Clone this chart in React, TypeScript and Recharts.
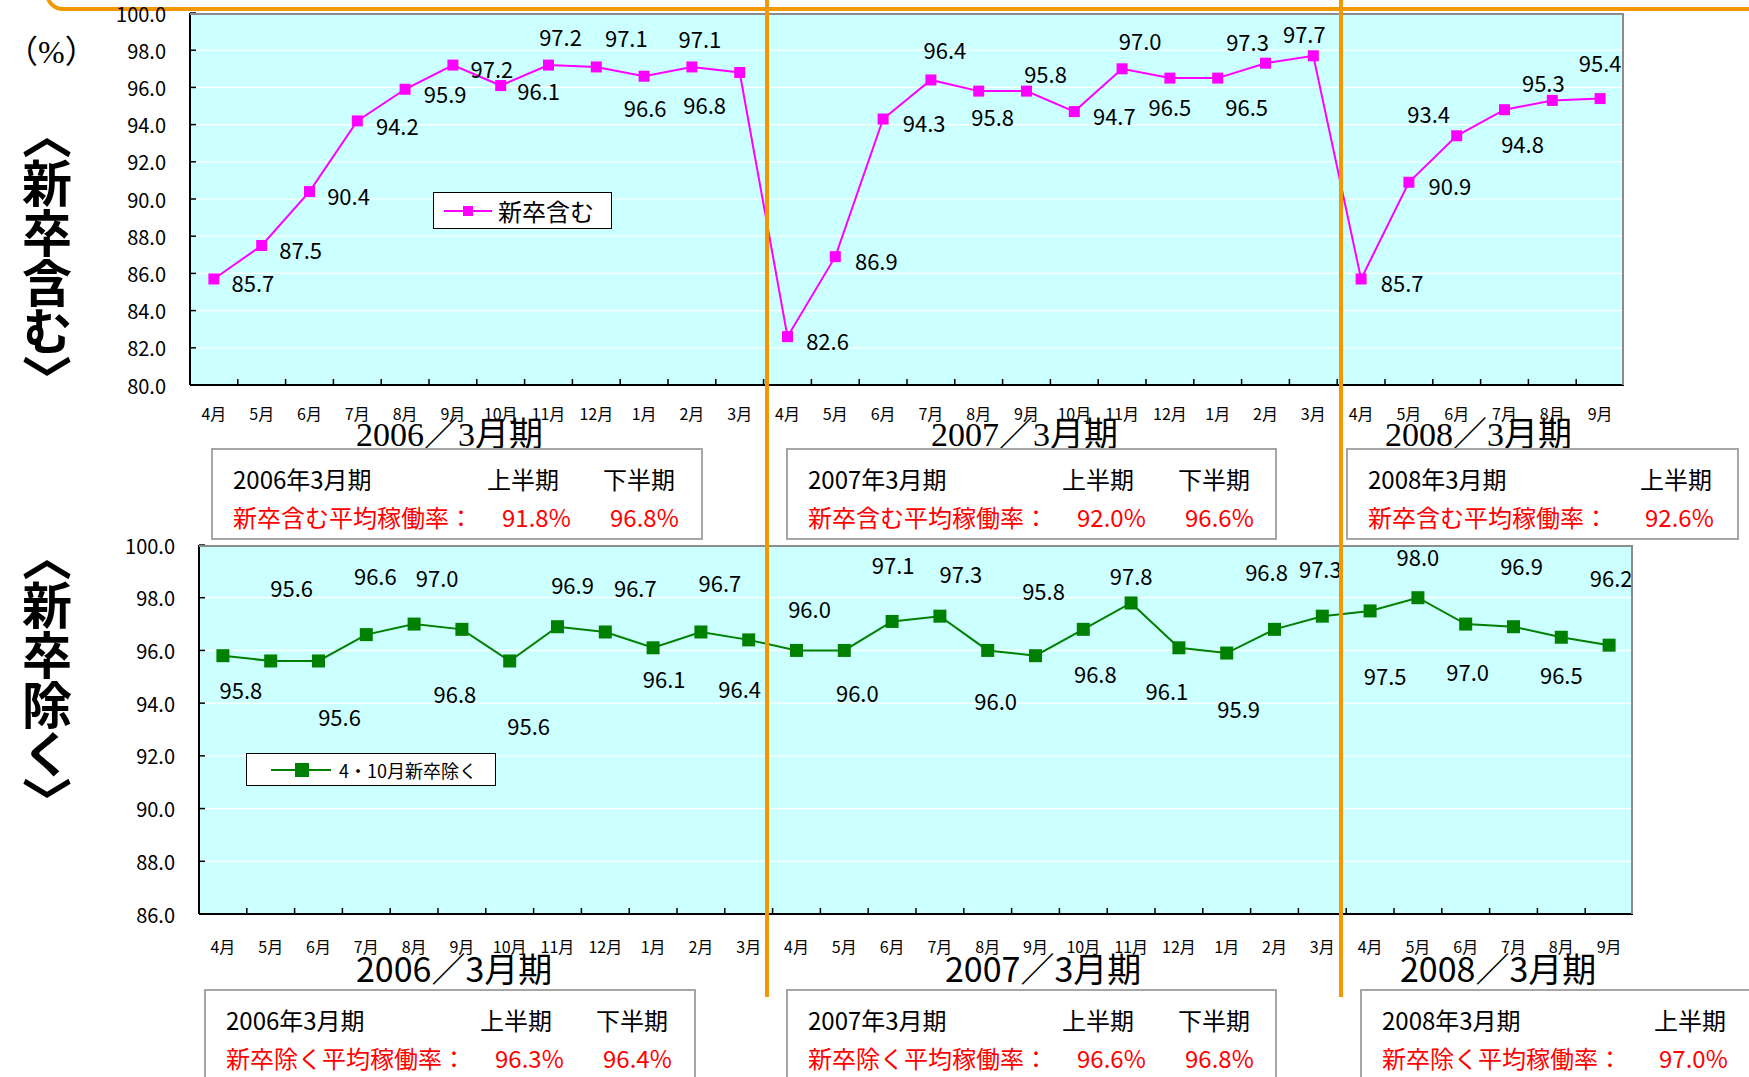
import React from "react";
import { LineChart, Line, XAxis, YAxis, CartesianGrid, LabelList } from "recharts";

// month categories, 2006/3期 → 2008/3期 上半期
const MONTHS = [
  "4月", "5月", "6月", "7月", "8月", "9月", "10月", "11月", "12月", "1月", "2月", "3月",
  "4月", "5月", "6月", "7月", "8月", "9月", "10月", "11月", "12月", "1月", "2月", "3月",
  "4月", "5月", "6月", "7月", "8月", "9月",
];

// 新卒含む
const RATE_WITH_NEW = [
  85.7, 87.5, 90.4, 94.2, 95.9, 97.2, 96.1, 97.2, 97.1, 96.6, 97.1, 96.8,
  82.6, 86.9, 94.3, 96.4, 95.8, 95.8, 94.7, 97.0, 96.5, 96.5, 97.3, 97.7,
  85.7, 90.9, 93.4, 94.8, 95.3, 95.4,
];

// 4・10月新卒除く
const RATE_WITHOUT_NEW = [
  95.8, 95.6, 95.6, 96.6, 97.0, 96.8, 95.6, 96.9, 96.7, 96.1, 96.7, 96.4,
  96.0, 96.0, 97.1, 97.3, 96.0, 95.8, 96.8, 97.8, 96.1, 95.9, 96.8, 97.3,
  97.5, 98.0, 97.0, 96.9, 96.5, 96.2,
];

const TOP_TICKS = [80, 82, 84, 86, 88, 90, 92, 94, 96, 98, 100];
const BOTTOM_TICKS = [86, 88, 90, 92, 94, 96, 98, 100];

const PERIODS = ["2006／3月期", "2007／3月期", "2008／3月期"];
const FISCAL_YEARS = ["2006年3月期", "2007年3月期", "2008年3月期"];
const HALVES = ["上半期", "下半期"];
const AVG_WITH_NEW = [[91.8, 96.8], [92.0, 96.6], [92.6]];
const AVG_WITHOUT_NEW = [[96.3, 96.4], [96.6, 96.8], [97.0]];

// label placement relative to each marker (px)
const TOP_LABEL_POS = [
  [39, 3], [39, 3], [39, 3], [40, 4], [40, 4], [39, 3], [38, 4], [12, -29], [30, -30], [1, 31], [8, -29], [-35, 31],
  [40, 3], [41, 3], [41, 3], [14, -31], [14, 25], [19, -18], [40, 3], [18, -29], [0, 28], [29, 28], [-18, -22], [-9, -23],
  [41, 3], [41, 3], [-28, -23], [18, 33], [-9, -18], [0, -37],
];
const BOTTOM_LABEL_POS = [
  [18, 33], [21, -74], [21, 55], [9, -60], [23, -47], [-7, 64], [19, 64], [15, -43], [30, -45], [11, 30], [19, -50], [-9, 48],
  [13, -42], [13, 42], [1, -57], [21, -43], [8, 50], [8, -66], [12, 44], [0, -28], [-12, 42], [12, 55], [-8, -58], [-2, -48],
  [15, 64], [0, -42], [2, 47], [8, -62], [0, 37], [2, -68],
];

const JP = "'Noto Sans CJK JP', 'Noto Sans', sans-serif";
const SERIF = "'Liberation Serif', 'Noto Sans CJK JP', serif";
const ORANGE = "#F39800";
const MAGENTA = "#FF00FF";
const GREEN = "#008000";
const PLOT_BG = "#CCFFFF";

const TOP = { left: 190, right: 1624, top: 13, bottom: 385, chartH: 440 };
const BOTTOM = { left: 199, right: 1633, top: 545, bottom: 914, offsetY: 500, chartH: 475 };
const topBand = (TOP.right - TOP.left) / MONTHS.length;
const bottomBand = (BOTTOM.right - BOTTOM.left) / MONTHS.length;
// fiscal-year boundaries sit between 3月 and 4月
const dividers = [12, 24].map(
  (n) => (TOP.left + n * topBand + BOTTOM.left + n * bottomBand) / 2 - 1
);

function XTick(props: any) {
  const { x, y, payload, band, labelGap } = props;
  return (
    <g>
      <line x1={x - band / 2} x2={x - band / 2} y1={y} y2={y - 6} stroke="#000" strokeWidth={1.5} />
      <text x={x} y={y + labelGap} textAnchor="middle" dominantBaseline="central" fontSize={16} fill="#000" fontFamily={JP}>
        {payload.value}
      </text>
    </g>
  );
}

function YTick(props: any) {
  const { x, y, payload } = props;
  return (
    <g>
      <line x1={x} x2={x + 6} y1={y} y2={y} stroke="#000" strokeWidth={1.5} />
      <text x={x - 24} y={y} textAnchor="end" dominantBaseline="central" fontSize={20} fill="#000" fontFamily={JP}>
        {Number(payload.value).toFixed(1)}
      </text>
    </g>
  );
}

const squareDot = (color: string, size: number) => (p: any) => (
  <rect key={`d-${p.index}`} x={p.cx - size / 2} y={p.cy - size / 2} width={size} height={size} fill={color} />
);

const valueLabel = (positions: number[][]) => (p: any) => {
  const x = p.x ?? p.viewBox?.x;
  const y = p.y ?? p.viewBox?.y;
  const [dx, dy] = positions[p.index] ?? [0, -20];
  return (
    <text key={`l-${p.index}`} x={x + dx} y={y + dy} textAnchor="middle" dominantBaseline="central" fontSize={22} fill="#000" fontFamily={JP}>
      {Number(p.value).toFixed(1)}
    </text>
  );
};

function RateChart({ data, box, band, ticks, domain, color, dotSize, labelPos, labelGap }: any) {
  const top = box.top - (box.offsetY ?? 0);
  const bottom = box.bottom - (box.offsetY ?? 0);
  return (
    <LineChart
      width={1749}
      height={box.chartH}
      data={data}
      margin={{ top, right: 1749 - box.right, bottom: 0, left: 0 }}
    >
      <CartesianGrid vertical={false} stroke="#FFFFFF" strokeWidth={1.2} fill={PLOT_BG} fillOpacity={1} />
      <XAxis
        dataKey="month"
        interval={0}
        padding={{ left: band / 2, right: band / 2 }}
        height={box.chartH - bottom}
        axisLine={{ stroke: "#000", strokeWidth: 2 }}
        tickLine={false}
        tickSize={0}
        tickMargin={0}
        tick={(p: any) => <XTick {...p} band={band} labelGap={labelGap} />}
      />
      <YAxis
        type="number"
        domain={domain}
        ticks={ticks}
        interval={0}
        width={box.left}
        axisLine={{ stroke: "#000", strokeWidth: 2 }}
        tickLine={false}
        tickSize={0}
        tickMargin={0}
        tick={(p: any) => <YTick {...p} />}
      />
      <Line
        dataKey="value"
        stroke={color}
        strokeWidth={2}
        dot={squareDot(color, dotSize)}
        activeDot={false}
        isAnimationActive={false}
      >
        <LabelList dataKey="value" content={valueLabel(labelPos)} />
      </Line>
    </LineChart>
  );
}

function SummaryBox({ left, top, width, year, label, values }: any) {
  const twoCols = values.length > 1;
  const hx = twoCols ? [274, 390] : [292];
  const vx = twoCols ? [289, 397] : [297];
  const cell = (x: number, y: number, text: string, color: string) => (
    <div style={{ position: "absolute", left: x, top: y, transform: "translateY(-50%)", whiteSpace: "nowrap", color, fontSize: 24, lineHeight: 1 }}>
      {text}
    </div>
  );
  return (
    <div
      style={{
        position: "absolute", left, top, width, height: 92, boxSizing: "border-box",
        border: "2px solid #A6A6A6", background: "#fff", fontFamily: JP,
      }}
    >
      {cell(20, 29, year, "#000")}
      {values.map((_: number, i: number) => cell(hx[i], 29, HALVES[i], "#000"))}
      {cell(20, 67, label, "#FF0000")}
      {values.map((v: number, i: number) => cell(vx[i], 67, `${v.toFixed(1)}%`, "#FF0000"))}
    </div>
  );
}

function PeriodLabel({ left, top, text, font }: any) {
  return (
    <div style={{ position: "absolute", left, top, transform: "translateY(-50%)", fontFamily: font, fontSize: 34, lineHeight: 1, whiteSpace: "nowrap", color: "#000" }}>
      {text}
    </div>
  );
}

function SideTitle({ top, text }: any) {
  return (
    <div
      style={{
        position: "absolute", left: 22, top, writingMode: "vertical-rl", fontFamily: JP,
        fontWeight: 700, fontSize: 50, lineHeight: 1, fontFeatureSettings: '"vpal"', color: "#000",
      }}
    >
      {text}
    </div>
  );
}

export default function App() {
  const topData = MONTHS.map((m, i) => ({ month: m, value: RATE_WITH_NEW[i] }));
  const bottomData = MONTHS.map((m, i) => ({ month: m, value: RATE_WITHOUT_NEW[i] }));

  const topBoxes = [
    { left: 211, width: 492 },
    { left: 786, width: 491 },
    { left: 1346, width: 393 },
  ];
  const bottomBoxes = [
    { left: 204, width: 492 },
    { left: 786, width: 491 },
    { left: 1360, width: 420 },
  ];

  return (
    <div style={{ position: "absolute", left: 0, top: 0, width: 1749, height: 1077, overflow: "hidden", background: "#fff" }}>
      {/* rounded frame edge along the top */}
      <div style={{ position: "absolute", left: 45, top: -30, width: 1760, height: 33, border: `4px solid ${ORANGE}`, borderRadius: 18 }} />

      <div style={{ position: "absolute", left: 0, top: 0 }}>
        <RateChart
          data={topData} box={TOP} band={topBand} ticks={TOP_TICKS} domain={[80, 100]}
          color={MAGENTA} dotSize={11} labelPos={TOP_LABEL_POS} labelGap={28}
        />
      </div>
      <div style={{ position: "absolute", left: 0, top: BOTTOM.offsetY }}>
        <RateChart
          data={bottomData} box={BOTTOM} band={bottomBand} ticks={BOTTOM_TICKS} domain={[86, 100]}
          color={GREEN} dotSize={13} labelPos={BOTTOM_LABEL_POS} labelGap={32}
        />
      </div>

      {/* gray frame on top/right of each plot */}
      {[TOP, BOTTOM].map((b, i) => (
        <div
          key={i}
          style={{
            position: "absolute", left: b.left, top: b.top, width: b.right - b.left, height: b.bottom - b.top,
            borderTop: "2px solid #8C8C8C", borderRight: "2px solid #8C8C8C", boxSizing: "border-box",
          }}
        />
      ))}

      {/* legends */}
      <div
        style={{
          position: "absolute", left: 433, top: 192, width: 179, height: 37, boxSizing: "border-box",
          border: "1.5px solid #000", background: "#fff", display: "flex", alignItems: "center", fontFamily: JP,
        }}
      >
        <svg width={54} height={20} style={{ marginLeft: 8 }}>
          <line x1={2} x2={50} y1={10} y2={10} stroke={MAGENTA} strokeWidth={2} />
          <rect x={21} y={5} width={10} height={10} fill={MAGENTA} />
        </svg>
        <span style={{ fontSize: 24, marginLeft: 2 }}>新卒含む</span>
      </div>
      <div
        style={{
          position: "absolute", left: 246, top: 753, width: 250, height: 33, boxSizing: "border-box",
          border: "1.5px solid #000", background: "#fff", display: "flex", alignItems: "center", fontFamily: JP,
        }}
      >
        <svg width={66} height={20} style={{ marginLeft: 22 }}>
          <line x1={2} x2={62} y1={10} y2={10} stroke={GREEN} strokeWidth={2} />
          <rect x={26} y={3} width={14} height={14} fill={GREEN} />
        </svg>
        <span style={{ fontSize: 18, marginLeft: 4 }}>4・10月新卒除く</span>
      </div>

      {/* fiscal-year captions */}
      <PeriodLabel left={356} top={435} text={PERIODS[0]} font={SERIF} />
      <PeriodLabel left={931} top={435} text={PERIODS[1]} font={SERIF} />
      <PeriodLabel left={1385} top={435} text={PERIODS[2]} font={SERIF} />
      <PeriodLabel left={356} top={968} text={PERIODS[0]} font={JP} />
      <PeriodLabel left={945} top={968} text={PERIODS[1]} font={JP} />
      <PeriodLabel left={1400} top={968} text={PERIODS[2]} font={JP} />

      {/* half-year averages */}
      {topBoxes.map((b, i) => (
        <SummaryBox key={`t${i}`} left={b.left} top={448} width={b.width} year={FISCAL_YEARS[i]} label="新卒含む平均稼働率：" values={AVG_WITH_NEW[i]} />
      ))}
      {bottomBoxes.map((b, i) => (
        <SummaryBox key={`b${i}`} left={b.left} top={989} width={b.width} year={FISCAL_YEARS[i]} label="新卒除く平均稼働率：" values={AVG_WITHOUT_NEW[i]} />
      ))}

      {/* fiscal-year dividers */}
      {dividers.map((x, i) => (
        <div key={i} style={{ position: "absolute", left: x - 2, top: 0, width: 4, height: 997, background: ORANGE }} />
      ))}

      {/* left-hand titles */}
      <div style={{ position: "absolute", left: 6, top: 26, fontFamily: SERIF, fontSize: 32, color: "#000", whiteSpace: "nowrap" }}>（%）</div>
      <SideTitle top={133} text="〈新卒含む〉" />
      <SideTitle top={555} text="〈新卒除く〉" />
    </div>
  );
}
